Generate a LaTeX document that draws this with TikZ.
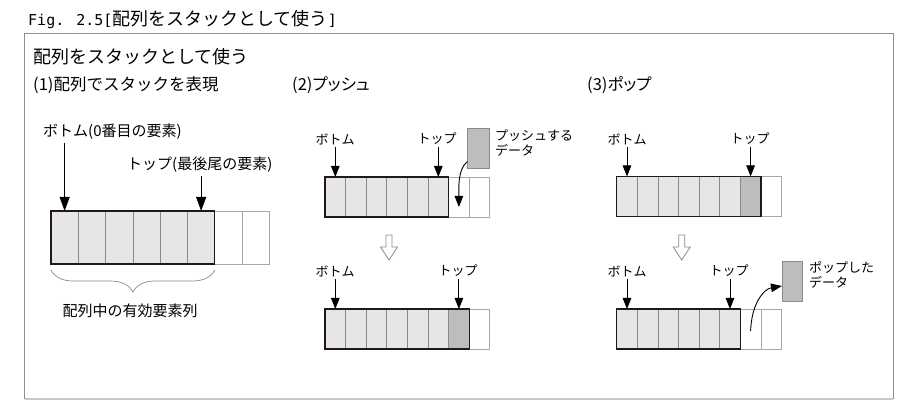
\documentclass[tikz,border=0pt]{standalone}
\usepackage{fontspec}
\setmainfont{Noto Sans CJK JP}
\newfontfamily\pfont{Noto Sans CJK JP}[RawFeature=+palt]
\newfontfamily\monofont{DejaVu Sans Mono}
\usetikzlibrary{arrows.meta,decorations.pathreplacing}
\definecolor{lightfill}{HTML}{E6E6E6}
\definecolor{darkfill}{HTML}{BDBDBD}
\definecolor{cellline}{HTML}{8A8A8A}
\definecolor{emptyline}{HTML}{A8A8A8}
\definecolor{olcol}{HTML}{231815}
\definecolor{framecol}{HTML}{8F8F8F}
\definecolor{shadowcol}{HTML}{C8C8C8}
\tikzset{
  basecell/.style={rectangle, inner sep=0pt, outer sep=0pt, line width=0.7pt},
  lightcell/.style={basecell, draw=cellline, fill=lightfill},
  darkcell/.style={basecell, draw=cellline, fill=darkfill},
  emptycell/.style={basecell, draw=emptyline, fill=white},
  outl/.style={draw=olcol, line width=1.3pt},
  ptr/.style={-{Triangle[length=11pt,width=8.5pt]}, line width=0.9pt, draw=black},
  bigptr/.style={-{Triangle[length=14pt,width=10pt]}, line width=0.9pt, draw=black},
  lbl/.style={font=\fontsize{13}{15}\selectfont, inner sep=2pt},
  biglbl/.style={font=\fontsize{15}{17}\selectfont, inner sep=3pt},
  subhead/.style={font=\fontsize{16.5}{18}\selectfont, inner sep=0pt, anchor=west},
  hollow/.style={draw=cellline, fill=white, line width=0.8pt, line join=miter},
  databox/.style={rectangle, draw=cellline, fill=darkfill, line width=0.7pt, inner sep=0pt},
  bracestyle/.style={decorate, decoration={brace, mirror, amplitude=22pt, aspect=0.5}, draw=cellline, line width=0.7pt}
}
% #1 prefix, #2 x0, #3 y centre, #4 cell width, #5 cell height, #6 light cells, #7 dark cell index
\newcommand\mkarray[7]{%
  \foreach \i in {1,...,8}{%
    \pgfmathsetmacro\cx{#2+(\i-0.5)*#4}%
    \ifnum\i=#7\relax\def\cst{darkcell}\else\ifnum\i>#6\relax\def\cst{emptycell}\else\def\cst{lightcell}\fi\fi
    \node[\cst, minimum width=#4, minimum height=#5] (#1\i) at (\cx,#3) {};
  }%
}
\newcommand\hollowarrow[2]{%
  \draw[hollow] (#1-3,#2) -- (#1+3,#2) -- (#1+3,#2+12) -- (#1+8.5,#2+12) -- (#1,#2+25) -- (#1-8.5,#2+12) -- (#1-3,#2+12) -- cycle;
}
\begin{document}
\begin{tikzpicture}[x=1pt,y=-1pt]
\useasboundingbox (0,0) rectangle (919,419);
\fill[white] (0,0) rectangle (919,419);
% frame
\draw[framecol, line width=1pt] (24.7,33.5) rectangle (893.3,398.3);
\draw[shadowcol, line width=2pt] (24.7,398.8) -- (893.3,398.8);
% titles
\node[anchor=west, inner sep=0pt] (title) at (28,20)
  {{\monofont\fontsize{15}{18}\selectfont Fig. 2.5[}{\fontsize{18}{20}\selectfont 配列をスタックとして使う}{\monofont\fontsize{15}{18}\selectfont ]}};
\node[anchor=west, inner sep=0pt, font=\fontsize{18}{20}\selectfont] (head) at (33,57) {配列をスタックとして使う};
\node[subhead] (sh1) at (33,85) {(1)配列でスタックを表現};
\node[subhead] (sh2) at (292,85) {\pfont (2)プッシュ};
\node[subhead] (sh3) at (587,85) {\pfont (3)ポップ};

% ---------- (1)
\mkarray{p1c}{51}{237.5}{27.3}{53}{6}{0}
\draw[outl] (p1c1.north west) rectangle (p1c6.south east);
\node[biglbl, anchor=west] (p1bot) at (40,132) {ボトム(0番目の要素)};
\node[biglbl, anchor=west] (p1top) at (124,165) {トップ(最後尾の要素)};
\draw[bigptr] (p1c1.north |- p1bot.south) -- (p1c1.north);
\draw[bigptr] (p1c6.north |- p1top.south) -- (p1c6.north);
\draw[bracestyle] ([yshift=-6pt]p1c1.south west) -- ([yshift=-6pt]p1c6.south east);
\node[biglbl] (p1br) at (130,311) {配列中の有効要素列};

% ---------- (2) push, before
\mkarray{p2a}{325}{197}{20.6}{40}{6}{0}
\draw[outl] (p2a1.north west) rectangle (p2a6.south east);
\node[lbl] (p2abot) at (335,139) {ボトム};
\node[lbl] (p2atop) at (437,139) {トップ};
\draw[ptr] (p2a1.north |- p2abot.south) -- (p2a1.north);
\draw[ptr] (p2a6.north |- p2atop.south) -- (p2a6.north);
\node[databox, minimum width=21.3, minimum height=40] (pushbox) at (478.3,148.3) {};
\node[lbl, anchor=west, align=left] (pushlbl) at (493,143) {プッシュする\\データ};
\draw[ptr] ([yshift=7pt]pushbox.south west) .. controls +(-10,8) and +(0,-18) .. ([yshift=-10pt]p2a7.center);
\hollowarrow{389}{235}
% ---------- (2) push, after
\mkarray{p2b}{325}{329}{20.6}{40}{6}{7}
\draw[outl] (p2b1.north west) rectangle (p2b7.south east);
\node[lbl] (p2bbot) at (335,271) {ボトム};
\node[lbl] (p2btop) at (458,271) {トップ};
\draw[ptr] (p2b1.north |- p2bbot.south) -- (p2b1.north);
\draw[ptr] (p2b7.north |- p2btop.south) -- (p2b7.north);

% ---------- (3) pop, before
\mkarray{p3a}{616.7}{196.5}{20.6}{40}{6}{7}
\draw[outl] (p3a1.north west) rectangle (p3a7.south east);
\node[lbl] (p3abot) at (627,139) {ボトム};
\node[lbl] (p3atop) at (750,139) {トップ};
\draw[ptr] (p3a1.north |- p3abot.south) -- (p3a1.north);
\draw[ptr] (p3a7.north |- p3atop.south) -- (p3a7.north);
\hollowarrow{681.7}{235}
% ---------- (3) pop, after
\mkarray{p3b}{616.7}{329}{20.6}{40}{6}{0}
\draw[outl] (p3b1.north west) rectangle (p3b6.south east);
\node[lbl] (p3bbot) at (627,271) {ボトム};
\node[lbl] (p3btop) at (729,271) {トップ};
\draw[ptr] (p3b1.north |- p3bbot.south) -- (p3b1.north);
\draw[ptr] (p3b6.north |- p3btop.south) -- (p3b6.north);
\node[databox, minimum width=20, minimum height=40] (popbox) at (792.3,281) {};
\node[lbl, anchor=west, align=left] (poplbl) at (807,275) {ポップした\\データ};
\draw[ptr] ([yshift=-2pt]p3b7.center) .. controls +(1,-28) and +(-18,3) .. ([yshift=-5pt]popbox.west);
\end{tikzpicture}
\end{document}
